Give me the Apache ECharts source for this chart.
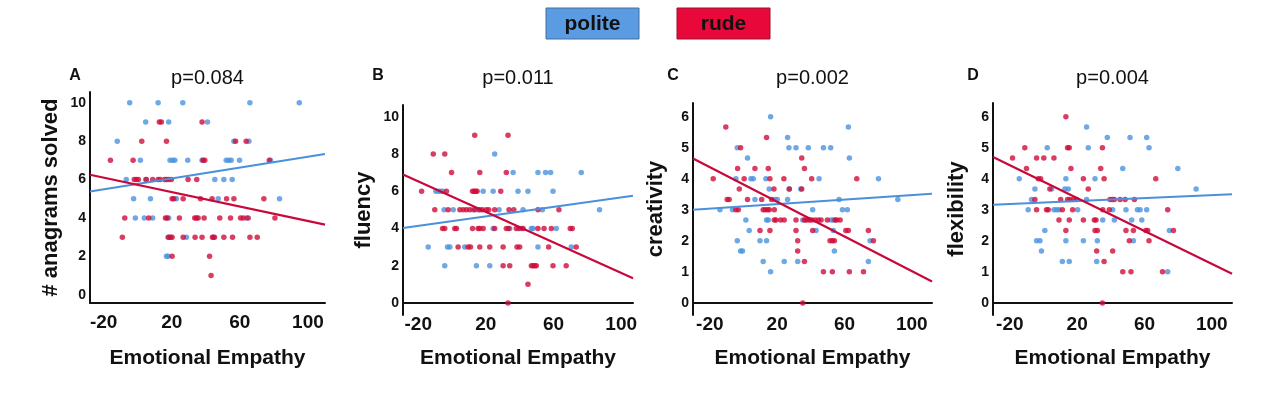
<!DOCTYPE html>
<html><head><meta charset="utf-8">
<script src="https://cdn.jsdelivr.net/npm/echarts@6/dist/echarts.min.js"></script>
<style>html,body{margin:0;padding:0;background:#fff}#c{width:1280px;height:395px}</style>
</head><body><div id="c"></div>
<script>
// ---------- text ----------
const panelLetters = ['A', 'B', 'C', 'D'];
const pTitles = ['p=0.084', 'p=0.011', 'p=0.002', 'p=0.004'];
const yNames = ['# anagrams solved', 'fluency', 'creativity', 'flexibility'];
const xName = 'Emotional Empathy';
const legendLabels = ['polite', 'rude'];

// ---------- tick labels ----------
const xTickValues = [-20, 20, 60, 100];
const yTicksA = [0, 2, 4, 6, 8, 10];
const yTicksB = [0, 2, 4, 6, 8, 10];
const yTicksC = [0, 1, 2, 3, 4, 5, 6];
const yTicksD = [0, 1, 2, 3, 4, 5, 6];

// ---------- axis ranges ----------
const xRangeA = [-28, 110], yRangeA = [-0.43, 10.56];
const xRangeB = [-29, 107], yRangeB = [-0.65, 10.63];
const xRangeC = [-30, 112], yRangeC = [-0.39, 6.44];
const xRangeD = [-30, 112], yRangeD = [-0.39, 6.44];

// ---------- fitted lines (value at x-axis min, value at x-axis max) ----------
const fitPoliteA = [5.38, 7.33], fitRudeA = [6.25, 3.65];
const fitPoliteB = [4.02, 5.75], fitRudeB = [6.9, 1.33];
const fitPoliteC = [3.0, 3.52], fitRudeC = [4.65, 0.69];
const fitPoliteD = [3.16, 3.5], fitRudeD = [4.7, 0.94];

// ---------- panel A: # anagrams solved ----------
const politeA = [[-4.7,10],[12,10],[26.5,10],[65.9,10],[94.9,10],
[4.7,9],[18.2,9],[41,9],[-12,8],[56.5,8],[65.3,8],
[1.6,7],[19,7],[20.6,7],[21.8,7],[29.4,7],[37.8,7],[52,7],[53.5,7],[54.9,7],[59.8,7],[78,7],
[-6.7,6],[4.7,6],[45.3,6],[50.6,6],[55.5,6],
[-2.4,5],[7.5,5],[22.7,5],[47.3,5],[83.3,5],
[-1.4,4],[3.9,4],[8.8,4],[18.2,4],[63.9,4],
[17.8,3],[28.6,3],[44.5,3],[16.9,2],[17.8,2]];
const rudeA = [[12.7,9],[13.9,9],[37.8,9],
[2.4,8],[16.9,8],[57.5,8],[63.7,8],
[-16,7],[-2.7,7],[38.4,7],[39.4,7],[77.3,7],
[-2,6],[-0.8,6],[0.4,6],[5.1,6],[8.8,6],[12,6],[13.3,6],[15.9,6],[16.9,6],[18.2,6],[19.8,6],[29.6,6],[34.7,6],
[20.2,5],[21.2,5],[26.7,5],[36.9,5],[43.7,5],[52.2,5],[56.5,5],[74.1,5],
[-7.6,4],[6.5,4],[16.3,4],[17.3,4],[24.5,4],[33.5,4],[34.5,4],[35.5,4],[39,4],[48.2,4],[54.5,4],[60.4,4],[62,4],[64.9,4],[80.6,4],
[-9,3],[18.2,3],[19.2,3],[20.2,3],[26.7,3],[33.7,3],[37.8,3],[43.9,3],[45.1,3],[50.6,3],[55.7,3],[65.9,3],[70.2,3],
[20.2,2],[42.2,2],[43.1,1]];

// ---------- panel B: fluency ----------
const politeB = [[25.2,8],
[36.1,7],[50.8,7],[55.3,7],[58.3,7],[76.4,7],
[-9.6,6],[-8.2,6],[-6.8,6],[-5.6,6],[18.4,6],[24.3,6],[39,6],[44.9,6],[59.7,6],
[-4.7,5],[0.7,5],[12.5,5],[15.4,5],[27.8,5],[42,5],[53.4,5],[87.2,5],
[24.3,4],[34.1,4],[41,4],[46.9,4],[47.9,4],[61.6,4],
[-14.1,3],[-2.7,3],[-1.3,3],[7.5,3],[50.8,3],[70.5,3],
[-4.3,2],[14.4,2],[22.3,2]];
const rudeB = [[13.4,9],[33.1,9],
[-11.1,8],[-4.3,8],
[-0.3,7],[16.4,7],[32.1,7],
[-18,6],[-3.3,6],[12.1,6],[13.1,6],[14,6],[14.8,6],[28.8,6],
[-10.2,5],[-2.3,5],[4.6,5],[6.6,5],[8.5,5],[10.5,5],[13.4,5],[16.4,5],[18,5],[20.3,5],[21.7,5],[25.2,5],[33.7,5],[36.5,5],[50.8,5],[63.2,5],
[-5.6,4],[-4.3,4],[1.6,4],[2.6,4],[12.1,4],[15.4,4],[16.4,4],[18.4,4],[25.2,4],[32.1,4],[33.5,4],[38,4],[39.6,4],[42,4],[50.8,4],[54.4,4],[58.7,4],[69.9,4],[71.1,4],
[3.6,3],[9.5,3],[10.9,3],[16.4,3],[22.3,3],[30.2,3],[38.4,3],[40,3],[57.1,3],[73.4,3],
[30.2,2],[34.1,2],[46.9,2],[47.9,2],[48.9,2],[49.8,2],[59.7,2],[67.5,2],
[44.9,1],[33.1,0]];

// ---------- panel C: creativity ----------
const politeC = [[16.1,6],[62.3,5.67],[26.2,5.33],
[-3.7,5],[27,5],[31.2,5],[38.5,5],[47.5,5],[51.8,5],
[2.4,4.67],[62.9,4.67],
[-4.5,4],[4.4,4],[5.8,4],[13.3,4],[44.9,4],[80.2,4],
[15.3,3.67],[27.2,3.67],[34,3.67],
[6.8,3.33],[18.7,3.33],[20.1,3.33],[26.2,3.33],[56.8,3.33],[91.7,3.33],
[-14,3],[-6.5,3],[41.1,3],[58.8,3],[61.7,3],
[1.4,2.67],[13.7,2.67],[14.7,2.67],[35.2,2.67],[52,2.67],[53.4,2.67],
[3.4,2.33],[43.1,2.33],[53.4,2.33],
[-3.7,2],[9.8,2],[13.7,2],[75.2,2],
[-1.7,1.67],[-0.6,1.67],[54,1.67],
[11.7,1.33],[24.2,1.33],[32.2,1.33],[74.2,1.33],
[16.1,1]];
const rudeC = [[-10.5,5.67],[13.7,5.33],[-1.7,5],[34.6,4.67],
[-3.5,4.33],[6.8,4.33],[14.7,4.33],[36.2,4.33],
[-18,4],[0.4,4],[15.7,4],[24,4],[40.5,4],[67.3,4],
[-2.5,3.67],[18.1,3.67],[27.2,3.67],[34.6,3.67],
[-9.7,3.33],[-8.5,3.33],[2.4,3.33],[10.8,3.33],[16.7,3.33],
[-4.5,3],[-3.1,3],[11.7,3],[12.9,3],[14.3,3],[15.3,3],[18.3,3],
[18.3,2.67],[19.3,2.67],[22.1,2.67],[24.2,2.67],[31.2,2.67],[36.2,2.67],[37.5,2.67],[39.1,2.67],[40.5,2.67],[42.5,2.67],[44.5,2.67],[46.1,2.67],[49.8,2.67],[54.4,2.67],[55.4,2.67],[57.4,2.67],
[9.8,2.33],[15.7,2.33],[31.2,2.33],[41.1,2.33],[60.8,2.33],[62.3,2.33],[74.2,2.33],
[32.2,2],[51.4,2],[52.8,2],[54,2],[77.2,2],
[32.2,1.67],[36.2,1.33],
[47.5,1],[52.8,1],[62.9,1],[71.3,1],
[35.2,0]];

// ---------- panel D: flexibility ----------
const politeD = [[25.6,5.67],[37.9,5.33],[51.4,5.33],[61.3,5.33],
[2.2,5],[26.6,5],[62.7,5],
[47.1,4.33],[79.8,4.33],
[-14.4,4],[13.3,4],[30.6,4],
[-5.1,3.67],[4.8,3.67],[12.7,3.67],[14.7,3.67],[90.7,3.67],
[-7.1,3.33],[25.6,3.33],
[-9.1,3],[6.2,3],[7.8,3],[9.2,3],[20.3,3],[41.1,3],[49,3],[55.8,3],[57.4,3],[61.3,3],
[35.2,2.67],[42.1,2.67],[52.4,2.67],[58.4,2.67],
[0.8,2.33],[74.8,2.33],
[-4.1,2],[-2.1,2],[13.3,2],[23.7,2],[32,2],[53.4,2],
[-1.2,1.67],
[11.2,1.33],[15.3,1.33],[31.6,1.33],
[73.8,1]];
const rudeD = [[13.3,6],
[-11.1,5],[14.3,5],[15.3,5],[35,5],
[-18.4,4.67],[-4.1,4.67],[0.2,4.67],[6.2,4.67],
[-10.1,4.33],[16.3,4.33],[34,4.33],
[-3.1,4],[-1.7,4],[23.7,4],[36,4],[66.7,4],
[3.8,3.67],[26.6,3.67],
[-5.1,3.33],[10.2,3.33],[14.3,3.33],[15.7,3.33],[17.7,3.33],[19.7,3.33],[39.5,3.33],[40.9,3.33],[42.1,3.33],[45.5,3.33],[48.5,3.33],[54,3.33],
[-4.1,3],[1.8,3],[2.8,3],[11.2,3],[17.3,3],[35.2,3],[39.1,3],[73.8,3],
[9.2,2.67],[15.3,2.67],[23.7,2.67],[30.2,2.67],[31.2,2.67],
[13.3,2.33],[30.6,2.33],[32,2.33],[49,2.33],[53.4,2.33],[60.8,2.33],[61.9,2.33],[77.2,2.33],
[51,2],[62.7,2],
[31.6,1.67],[41.1,1.67],
[36,1.33],
[47.1,1],[52,1],[70.7,1],
[35,0]];

// ---------- build ----------
const FONT = 'Liberation Sans, Arial, sans-serif';
const BLUE_DOT = '#4A92E0', RED_DOT = '#D00C3A';
const BLUE_LINE = '#4A90DB', RED_LINE = '#C8083A';

const panels = [
  {xr: xRangeA, yr: yRangeA, yt: yTicksA, pol: politeA, rud: rudeA, fp: fitPoliteA, fr: fitRudeA,
   grid: {left: 90, top: 92, width: 235, height: 211}, onZero: false, lblMargin: 10, nGap: 45, yGap: 28},
  {xr: xRangeB, yr: yRangeB, yt: yTicksB, pol: politeB, rud: rudeB, fp: fitPoliteB, fr: fitRudeB,
   grid: {left: 403, top: 105, width: 230, height: 210}, onZero: true, lblMargin: 0, nGap: 33, yGap: 28},
  {xr: xRangeC, yr: yRangeC, yt: yTicksC, pol: politeC, rud: rudeC, fp: fitPoliteC, fr: fitRudeC,
   grid: {left: 693, top: 103, width: 239, height: 212}, onZero: true, lblMargin: 0, nGap: 33, yGap: 26},
  {xr: xRangeD, yr: yRangeD, yt: yTicksD, pol: politeD, rud: rudeD, fp: fitPoliteD, fr: fitRudeD,
   grid: {left: 993, top: 103, width: 239, height: 212}, onZero: true, lblMargin: 0, nGap: 33, yGap: 25}
];

const grids = [], xAxes = [], yAxes = [], series = [], graphics = [];
panels.forEach((p, i) => {
  grids.push(Object.assign({containLabel: false}, p.grid));
  xAxes.push({
    type: 'value', gridIndex: i, min: p.xr[0], max: p.xr[1],
    axisLine: {show: true, onZero: p.onZero, lineStyle: {color: '#111', width: 2}},
    axisTick: {show: false}, splitLine: {show: false},
    axisLabel: {customValues: xTickValues, color: '#111', fontFamily: FONT, fontWeight: 'bold', fontSize: 19, margin: p.lblMargin},
    name: xName, nameLocation: 'middle', nameGap: p.nGap,
    nameTextStyle: {color: '#111', fontFamily: FONT, fontWeight: 'bold', fontSize: 21}
  });
  yAxes.push({
    type: 'value', gridIndex: i, min: p.yr[0], max: p.yr[1],
    axisLine: {show: true, onZero: false, lineStyle: {color: '#111', width: 2}},
    axisTick: {show: false}, splitLine: {show: false},
    axisLabel: {customValues: p.yt, color: '#111', fontFamily: FONT, fontWeight: 'bold', fontSize: 14, margin: 4},
    name: yNames[i], nameLocation: 'middle', nameGap: p.yGap, nameRotate: 90,
    nameTextStyle: {color: '#111', fontFamily: FONT, fontWeight: 'bold', fontSize: 22}
  });
  series.push({type: 'scatter', xAxisIndex: i, yAxisIndex: i, data: p.pol, symbolSize: 5.5,
    itemStyle: {color: BLUE_DOT}, silent: true});
  series.push({type: 'scatter', xAxisIndex: i, yAxisIndex: i, data: p.rud, symbolSize: 5.5,
    itemStyle: {color: RED_DOT}, silent: true});
  series.push({type: 'line', xAxisIndex: i, yAxisIndex: i, showSymbol: false, silent: true,
    data: [[p.xr[0], p.fp[0]], [p.xr[1], p.fp[1]]], lineStyle: {color: BLUE_LINE, width: 2}, z: 5});
  series.push({type: 'line', xAxisIndex: i, yAxisIndex: i, showSymbol: false, silent: true,
    data: [[p.xr[0], p.fr[0]], [p.xr[1], p.fr[1]]], lineStyle: {color: RED_LINE, width: 2.2}, z: 5});

  const cx = p.grid.left + p.grid.width / 2;
  graphics.push({type: 'text', x: cx, y: 78, style: {text: pTitles[i], fill: '#111', font: '20px ' + FONT, textAlign: 'center', textVerticalAlign: 'middle'}});
});
const letterX = [75, 378, 673, 973];
panelLetters.forEach((l, i) => {
  graphics.push({type: 'text', x: letterX[i], y: 76, style: {text: l, fill: '#111', font: 'bold 16px ' + FONT, textAlign: 'center', textVerticalAlign: 'middle'}});
});
// legend boxes
const legendFill = ['#5B9BE2', '#E8083A'];
const legendStroke = ['#41719C', '#9A1030'];
const legendX = [546, 677];
legendLabels.forEach((t, i) => {
  graphics.push({type: 'rect', shape: {x: legendX[i], y: 8, width: 93, height: 31},
    style: {fill: legendFill[i], stroke: legendStroke[i], lineWidth: 1}});
  graphics.push({type: 'text', x: legendX[i] + 46.5, y: 24, style: {text: t, fill: '#111', font: 'bold 21px ' + FONT, textAlign: 'center', textVerticalAlign: 'middle'}});
});

const chart = echarts.init(document.getElementById('c'), null, {renderer: 'canvas'});
chart.setOption({
  animation: false,
  backgroundColor: '#fff',
  grid: grids, xAxis: xAxes, yAxis: yAxes, series: series, graphic: graphics
});
</script>
</body></html>
